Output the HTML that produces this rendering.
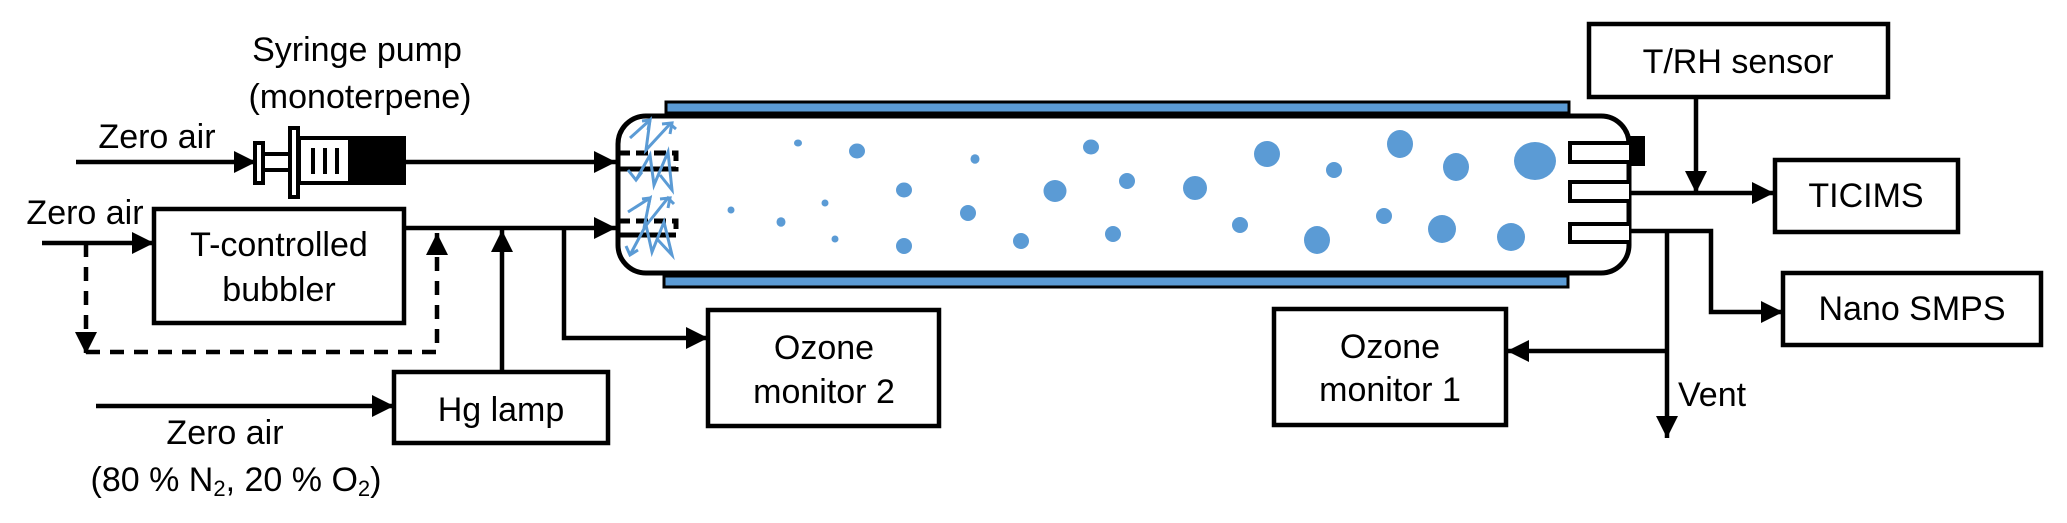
<!DOCTYPE html>
<html><head><meta charset="utf-8"><style>
html,body{margin:0;padding:0;background:#fff;}
svg{display:block;}
text{font-family:"Liberation Sans",Arial,sans-serif;font-size:34px;fill:#000;}
</style></head><body>
<svg width="2067" height="523" viewBox="0 0 2067 523" xmlns="http://www.w3.org/2000/svg">
<defs>
<marker id="a" viewBox="0 0 10 10" refX="10" refY="5" markerWidth="22" markerHeight="22" markerUnits="userSpaceOnUse" orient="auto"><path d="M0,0 L10,5 L0,10 z" fill="#000"/></marker>
<marker id="b" viewBox="0 0 10 10" refX="9" refY="5" markerWidth="14" markerHeight="14" markerUnits="userSpaceOnUse" orient="auto"><path d="M0,1 L10,5 L0,9" fill="none" stroke="#5b9bd5" stroke-width="1.5"/></marker>
</defs>
<text x="357" y="50" text-anchor="middle" dominant-baseline="central">Syringe pump</text>
<text x="360" y="97" text-anchor="middle" dominant-baseline="central">(monoterpene)</text>
<text x="157" y="137" text-anchor="middle" dominant-baseline="central">Zero air</text>
<text x="85" y="213" text-anchor="middle" dominant-baseline="central">Zero air</text>
<text x="279" y="245" text-anchor="middle" dominant-baseline="central">T-controlled</text>
<text x="279" y="290" text-anchor="middle" dominant-baseline="central">bubbler</text>
<text x="501" y="410" text-anchor="middle" dominant-baseline="central">Hg lamp</text>
<text x="225" y="433" text-anchor="middle" dominant-baseline="central">Zero air</text>
<text x="236" y="480" text-anchor="middle" dominant-baseline="central">(80 % N<tspan font-size="22" dy="8">2</tspan><tspan dy="-8">, 20 % O</tspan><tspan font-size="22" dy="8">2</tspan><tspan dy="-8">)</tspan></text>
<text x="824" y="348" text-anchor="middle" dominant-baseline="central">Ozone</text>
<text x="824" y="392" text-anchor="middle" dominant-baseline="central">monitor 2</text>
<text x="1390" y="347" text-anchor="middle" dominant-baseline="central">Ozone</text>
<text x="1390" y="390" text-anchor="middle" dominant-baseline="central">monitor 1</text>
<text x="1738" y="62" text-anchor="middle" dominant-baseline="central">T/RH sensor</text>
<text x="1866" y="196" text-anchor="middle" dominant-baseline="central">TICIMS</text>
<text x="1912" y="309" text-anchor="middle" dominant-baseline="central">Nano SMPS</text>
<text x="1678" y="395" dominant-baseline="central">Vent</text>

<g stroke="#000" stroke-width="4.5" fill="none">
<rect x="154" y="209" width="250" height="114"/>
<rect x="394" y="372" width="214" height="71"/>
<rect x="708" y="310" width="231" height="116"/>
<rect x="1274" y="309" width="232" height="116"/>
<rect x="1589" y="24" width="299" height="73"/>
<rect x="1775" y="160" width="183" height="72"/>
<rect x="1783" y="273" width="258" height="72"/>
<line x1="76" y1="162" x2="256" y2="162" marker-end="url(#a)"/>
<line x1="404" y1="162" x2="616" y2="162" marker-end="url(#a)"/>
<line x1="42" y1="243" x2="154" y2="243" marker-end="url(#a)"/>
<line x1="404" y1="228" x2="616" y2="228" marker-end="url(#a)"/>
<polyline points="564,228 564,338 708,338" marker-end="url(#a)"/>
<line x1="502" y1="372" x2="502" y2="230" marker-end="url(#a)"/>
<line x1="96" y1="406" x2="394" y2="406" marker-end="url(#a)"/>
<polyline points="86,243 86,354" stroke-dasharray="14,10" marker-end="url(#a)"/>
<polyline points="86,352 437,352 437,233" stroke-dasharray="14,10" marker-end="url(#a)"/>
<line x1="1629" y1="193" x2="1774" y2="193" marker-end="url(#a)"/>
<line x1="1696" y1="97" x2="1696" y2="193" marker-end="url(#a)"/>
<polyline points="1629,231 1711,231 1711,312 1783,312" marker-end="url(#a)"/>
<line x1="1667" y1="231" x2="1667" y2="438" marker-end="url(#a)"/>
<line x1="1667" y1="351" x2="1507" y2="351" marker-end="url(#a)"/>
</g>

<g stroke="#000" stroke-width="4">
<rect x="255" y="143" width="8" height="40" fill="#fff"/>
<line x1="263" y1="154" x2="290" y2="154"/>
<line x1="263" y1="170" x2="290" y2="170"/>
<rect x="290" y="128" width="8" height="69" fill="#fff"/>
<rect x="299" y="138" width="105" height="45" fill="#fff"/>
<rect x="350" y="138" width="54" height="45" fill="#000"/>
<line x1="313" y1="148" x2="313" y2="174"/>
<line x1="325" y1="148" x2="325" y2="174"/>
<line x1="337" y1="148" x2="337" y2="174"/>
</g>

<rect x="666" y="102" width="903" height="11" fill="#5b9bd5" stroke="#000" stroke-width="3"/>
<rect x="664" y="276" width="904" height="11" fill="#5b9bd5" stroke="#000" stroke-width="3"/>
<rect x="618" y="116" width="1011" height="157" rx="28" ry="28" fill="#fff" stroke="#000" stroke-width="5"/>
<g stroke="#000" stroke-width="5" fill="none">
<path d="M618,153 H676 V169 H618" stroke-dasharray="12,6"/>
<line x1="618" y1="169" x2="676" y2="169"/>
<path d="M618,221 H676 V235 H618" stroke-dasharray="12,6"/>
<line x1="618" y1="235" x2="676" y2="235"/>
</g>
<g stroke="#5b9bd5" stroke-width="3" fill="none" stroke-linejoin="miter">
<polyline points="630,138 650,120 646,150 670,124 676,129" />
<polyline points="636,180 650,155 654,185 668,152 672,190 660,175"/>
<polyline points="628,212 650,198 644,228 668,198 674,204"/>
<polyline points="630,255 646,225 652,252 664,222 672,255 658,240"/>
<polyline points="642,121 650,120 648,130"/>
<polyline points="662,124 672,123 670,134"/>
<polyline points="642,199 650,198 648,208"/>
<polyline points="660,199 670,198 668,208"/>
<polyline points="628,170 636,180 642,172"/>
<polyline points="626,246 630,255 638,250"/>
</g>
<g stroke="#000" stroke-width="4" fill="#fff">
<path d="M1629,143 H1570 V162 H1629"/>
<path d="M1629,182 H1570 V201 H1629"/>
<path d="M1629,224 H1570 V242 H1629"/>
</g>
<rect x="1629" y="136" width="16" height="30" fill="#000"/>
<g fill="#5b9bd5">
<ellipse cx="798" cy="143" rx="4" ry="3.5"/>
<ellipse cx="857" cy="151" rx="8" ry="7.5"/>
<ellipse cx="975" cy="159" rx="4.5" ry="4.7"/>
<ellipse cx="1091" cy="147" rx="8" ry="7.5"/>
<ellipse cx="1267" cy="154" rx="13" ry="13"/>
<ellipse cx="1334" cy="170" rx="8" ry="8"/>
<ellipse cx="1400" cy="144" rx="13" ry="14"/>
<ellipse cx="1456" cy="167" rx="13" ry="14"/>
<ellipse cx="1535" cy="161" rx="21" ry="19"/>
<ellipse cx="904" cy="190" rx="8" ry="7.5"/>
<ellipse cx="1055" cy="191" rx="11.5" ry="11"/>
<ellipse cx="1127" cy="181" rx="8" ry="8"/>
<ellipse cx="1195" cy="188" rx="12" ry="12"/>
<ellipse cx="731" cy="210" rx="3.5" ry="3.5"/>
<ellipse cx="825" cy="203" rx="3.5" ry="3.5"/>
<ellipse cx="781" cy="222" rx="4.5" ry="4.7"/>
<ellipse cx="968" cy="213" rx="8" ry="8"/>
<ellipse cx="835" cy="239" rx="3.5" ry="3.5"/>
<ellipse cx="904" cy="246" rx="8" ry="8"/>
<ellipse cx="1021" cy="241" rx="8" ry="8"/>
<ellipse cx="1113" cy="234" rx="8" ry="8"/>
<ellipse cx="1240" cy="225" rx="8" ry="8"/>
<ellipse cx="1317" cy="240" rx="13" ry="14"/>
<ellipse cx="1384" cy="216" rx="8" ry="8"/>
<ellipse cx="1442" cy="229" rx="14" ry="14"/>
<ellipse cx="1511" cy="237" rx="14" ry="14"/>
</g>
</svg>
</body></html>
